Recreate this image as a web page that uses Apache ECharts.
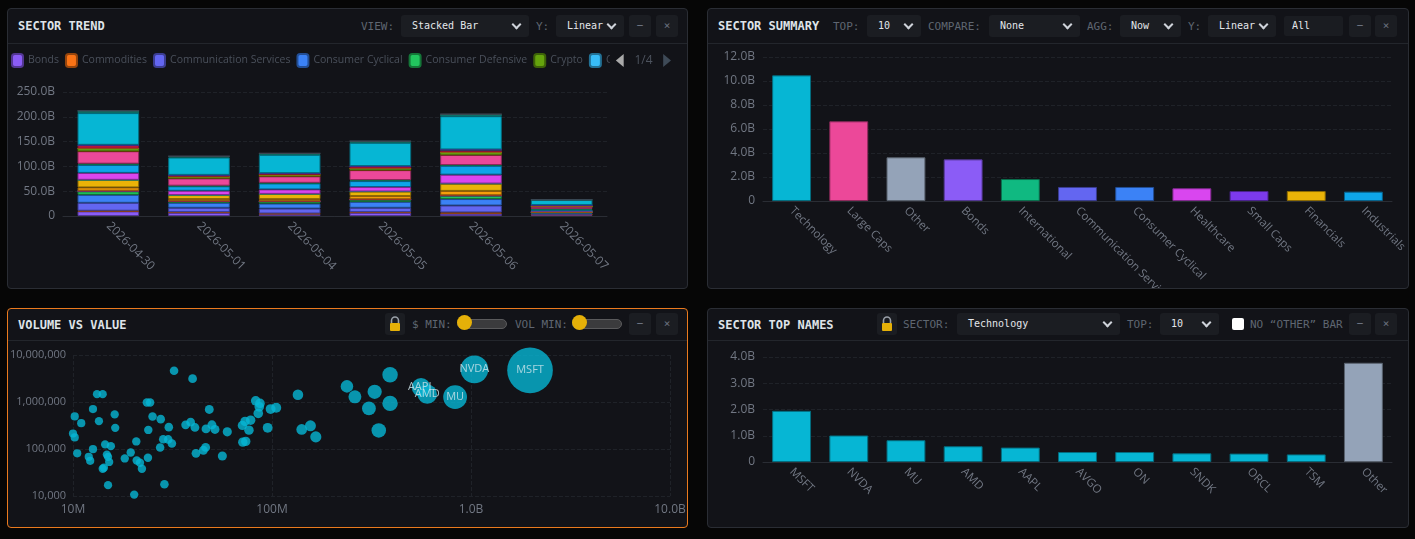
<!DOCTYPE html>
<html>
<head>
<meta charset="utf-8">
<title>Sector Dashboard</title>
<script src="https://cdn.jsdelivr.net/npm/echarts@6/dist/echarts.min.js"></script>
<style>
  body { margin: 0; width: 1415px; height: 539px; overflow: hidden; background: #060606; font-family: 'DejaVu Sans Mono', monospace; }
  .panel { position: absolute; box-sizing: border-box; background: #121318; border: 1px solid #2a2d34; border-radius: 4px; }
  .panel.active { border-color: #ea7a1e; }
  .head { position: absolute; left: 0; right: 0; top: 0; border-bottom: 1px solid #23262c; }
  .head > * { position: absolute; }
  .title { left: 10px; color: #dfe3e8; font-size: 12px; font-weight: bold; }
  .lbl { color: #5f6671; font-size: 11px; }
  .sel { height: 22px; line-height: 22px; background: #1b1d22; border-radius: 3px; color: #e3e6ea; font-size: 10px; padding-left: 11px; box-sizing: border-box; }
  .sel::after { content: ''; position: absolute; right: 9px; top: 6px; width: 5px; height: 5px; border-right: 2px solid #cfd3da; border-bottom: 2px solid #cfd3da; transform: rotate(45deg); }
  .inp { height: 22px; line-height: 22px; background: #1a1c21; border-radius: 2px; color: #e3e6ea; font-size: 10px; padding-left: 8px; box-sizing: border-box; }
  .btn { width: 22px; height: 22px; line-height: 22px; background: #1b1d22; border-radius: 3px; color: #6b7280; font-size: 11px; text-align: center; }
  .lock { width: 20px; height: 22px; background: #1b1d22; border-radius: 3px; }
  .track { width: 48px; height: 8px; background: #3b3b3d; border: 1px solid #5a5a5c; border-radius: 5px; }
  .knob { width: 15px; height: 15px; background: #e5b008; border-radius: 50%; }
  .chk { width: 12px; height: 12px; background: #fff; border-radius: 2px; }
  .chart { position: absolute; left: 0; }
</style>
</head>
<body>

<!-- 左上：Sector Trend -->
<div class="panel" style="left:7px;top:8px;width:681px;height:281px;">
  <div class="head" style="height:34px;">
    <span class="title" style="top:10px;">SECTOR TREND</span>
    <span class="lbl" style="left:353px;top:11px;">VIEW:</span>
    <div class="sel" style="left:393px;top:6px;width:128px;">Stacked Bar</div>
    <span class="lbl" style="left:528px;top:11px;">Y:</span>
    <div class="sel" style="left:548px;top:6px;width:68px;">Linear</div>
    <div class="btn" style="left:621px;top:6px;">&minus;</div>
    <div class="btn" style="left:648px;top:6px;">&times;</div>
  </div>
  <div class="chart" id="trend-chart" style="top:34px;width:679px;height:245px;"></div>
</div>

<!-- 右上：Sector Summary -->
<div class="panel" style="left:707px;top:8px;width:702px;height:281px;">
  <div class="head" style="height:34px;">
    <span class="title" style="top:10px;">SECTOR SUMMARY</span>
    <span class="lbl" style="left:125px;top:11px;">TOP:</span>
    <div class="sel" style="left:159px;top:6px;width:54px;">10</div>
    <span class="lbl" style="left:220px;top:11px;">COMPARE:</span>
    <div class="sel" style="left:281px;top:6px;width:91px;">None</div>
    <span class="lbl" style="left:379px;top:11px;">AGG:</span>
    <div class="sel" style="left:412px;top:6px;width:61px;">Now</div>
    <span class="lbl" style="left:480px;top:11px;">Y:</span>
    <div class="sel" style="left:500px;top:6px;width:68px;">Linear</div>
    <div class="inp" style="left:576px;top:7px;width:59px;height:20px;line-height:20px;">All</div>
    <div class="btn" style="left:641px;top:6px;">&minus;</div>
    <div class="btn" style="left:667px;top:6px;">&times;</div>
  </div>
  <div class="chart" id="summary-chart" style="top:34px;width:700px;height:245px;"></div>
</div>

<!-- 左下：Volume vs Value -->
<div class="panel active" style="left:7px;top:308px;width:681px;height:220px;">
  <div class="head" style="height:31px;">
    <span class="title" style="top:9px;">VOLUME VS VALUE</span>
    <div class="lock" style="left:377px;top:4px;">
      <svg width="20" height="22" viewBox="0 0 20 22"><path d="M6.5 10V7.5a3.5 3.5 0 0 1 7 0V10" fill="none" stroke="#9aa0a8" stroke-width="1.6"/><rect x="5" y="10" width="10" height="8" rx="1" fill="#e5b008"/></svg>
    </div>
    <span class="lbl" style="left:404px;top:9px;">$ MIN:</span>
    <div class="track" style="left:449px;top:10px;"></div>
    <div class="knob" style="left:449px;top:6px;"></div>
    <span class="lbl" style="left:507px;top:9px;">VOL MIN:</span>
    <div class="track" style="left:564px;top:10px;"></div>
    <div class="knob" style="left:564px;top:6px;"></div>
    <div class="btn" style="left:621px;top:4px;">&minus;</div>
    <div class="btn" style="left:648px;top:4px;">&times;</div>
  </div>
  <div class="chart" id="scatter-chart" style="top:31px;width:679px;height:187px;"></div>
</div>

<!-- 右下：Sector Top Names -->
<div class="panel" style="left:707px;top:308px;width:702px;height:220px;">
  <div class="head" style="height:31px;">
    <span class="title" style="top:9px;">SECTOR TOP NAMES</span>
    <div class="lock" style="left:169px;top:4px;">
      <svg width="20" height="22" viewBox="0 0 20 22"><path d="M6.5 10V7.5a3.5 3.5 0 0 1 7 0V10" fill="none" stroke="#9aa0a8" stroke-width="1.6"/><rect x="5" y="10" width="10" height="8" rx="1" fill="#e5b008"/></svg>
    </div>
    <span class="lbl" style="left:195px;top:9px;">SECTOR:</span>
    <div class="sel" style="left:249px;top:4px;width:163px;">Technology</div>
    <span class="lbl" style="left:419px;top:9px;">TOP:</span>
    <div class="sel" style="left:452px;top:4px;width:59px;">10</div>
    <div class="chk" style="left:524px;top:9px;"></div>
    <span class="lbl" style="left:542px;top:9px;">NO “OTHER” BAR</span>
    <div class="btn" style="left:641px;top:4px;">&minus;</div>
    <div class="btn" style="left:667px;top:4px;">&times;</div>
  </div>
  <div class="chart" id="names-chart" style="top:31px;width:700px;height:187px;"></div>
</div>

<script>
// ---------- 数据 ----------
// Sector trend, stacked values in billions
var trendDates = ['2026-04-30', '2026-05-01', '2026-05-04', '2026-05-05', '2026-05-06', '2026-05-07'];
var trendBonds = [9.3, 6.6, 4.0, 6.6, 4.6, 2.6];
var trendCommodities = [1.3, 1.0, 1.0, 1.0, 2.6, 0.3];
var trendCommServices = [16, 9, 10, 9, 14, 2.0];
var trendConsCyclical = [16, 10, 10, 12, 13, 1.3];
var trendConsDefensive = [7, 2.6, 4, 4, 6, 1.0];
var trendCrypto = [0.4, 0.2, 0.2, 0.3, 0.4, 0.1];
var trendCurrencies = [0.3, 0.2, 0.2, 0.2, 0.3, 0.1];
var trendDividend = [0.3, 0.2, 0.2, 0.2, 0.3, 0.1];
var trendEmerging = [0.4, 0.3, 0.3, 0.3, 0.4, 0.1];
var trendEnergy = [6.6, 4, 4, 6.6, 9, 0.8];
var trendFinancials = [15, 8, 10.5, 9, 14.5, 1.0];
var trendGrowth = [0.3, 0.2, 0.2, 0.2, 0.3, 0.1];
var trendHealthcare = [14, 8.6, 9, 9, 18, 1.0];
var trendIndustrials = [16, 9, 12, 12, 18, 1.2];
var trendInternational = [2.6, 1.3, 1.3, 2, 1.3, 2.6];
var trendLargeCaps = [25, 14.5, 13, 20, 20.5, 4.6];
var trendMaterials = [0.4, 0.3, 0.3, 0.3, 0.4, 0.2];
var trendMidCaps = [5, 3, 2.6, 3, 4.6, 0.6];
var trendPrecious = [0.3, 0.2, 0.2, 0.2, 0.3, 0.1];
var trendRealEstate = [6, 3, 2.6, 4, 4.6, 2.0];
var trendSemis = [0.3, 0.2, 0.2, 0.2, 0.3, 0.1];
var trendSmallCaps = [1, 0.5, 0.5, 0.5, 0.8, 0.3];
var trendTechnology = [64, 35, 37, 47, 67, 10];
var trendUtilities = [4.6, 2.6, 3, 3.3, 4, 0.5];
var trendValue = [0.2, 0.1, 0.1, 0.1, 0.2, 0.1];

var trendSeriesList = [
    ['Bonds', trendBonds], ['Commodities', trendCommodities],
    ['Communication Services', trendCommServices], ['Consumer Cyclical', trendConsCyclical],
    ['Consumer Defensive', trendConsDefensive], ['Crypto', trendCrypto],
    ['Currencies', trendCurrencies], ['Dividend', trendDividend],
    ['Emerging Markets', trendEmerging], ['Energy', trendEnergy],
    ['Financials', trendFinancials], ['Growth', trendGrowth],
    ['Healthcare', trendHealthcare], ['Industrials', trendIndustrials],
    ['International', trendInternational], ['Large Caps', trendLargeCaps],
    ['Materials', trendMaterials], ['Mid Caps', trendMidCaps],
    ['Precious Metals', trendPrecious], ['Real Estate', trendRealEstate],
    ['Semiconductors', trendSemis], ['Small Caps', trendSmallCaps],
    ['Technology', trendTechnology], ['Utilities', trendUtilities],
    ['Value', trendValue]
];

// Sector summary (billions)
var summarySectors = ['Technology', 'Large Caps', 'Other', 'Bonds', 'International', 'Communication Services',
    'Consumer Cyclical', 'Healthcare', 'Small Caps', 'Financials', 'Industrials'];
var summaryValues = [10.47, 6.64, 3.64, 3.47, 1.83, 1.17, 1.17, 1.06, 0.83, 0.83, 0.78];

// Sector top names (billions)
var topNames = ['MSFT', 'NVDA', 'MU', 'AMD', 'AAPL', 'AVGO', 'ON', 'SNDK', 'ORCL', 'TSM', 'Other'];
var topValues = [1.95, 1.01, 0.83, 0.60, 0.55, 0.38, 0.38, 0.33, 0.32, 0.29, 3.78];

// Volume vs value: dollar value in millions, volume in shares
var scatterValueM = [32.2, 39.9, 13.2, 14.1, 23.5, 24.4, 12.6, 10.2, 11.0, 13.5, 16.2, 16.3, 10.0, 10.2, 10.5,
    12.6, 12.0, 12.2, 14.5, 15.5, 14.8, 15.0, 15.2, 14.1, 14.3, 15.0, 18.2, 19.5, 20.8, 20.9, 21.7, 22.2, 20.3,
    23.8, 23.9, 25.1, 27.6, 27.4, 28.4, 30.1, 31.4, 30.3, 28.8, 36.8, 39.0, 41.0, 41.5, 45.2, 46.4, 46.6, 48.4,
    49.9, 51.7, 56.3, 59.6, 71.0, 73.2, 78.1, 76.6, 71.3, 73.8, 82.8, 87.0, 86.3, 85.3, 95.1, 98.4, 105, 135,
    141, 156, 166, 238, 261, 392, 328, 307, 392, 344];
var scatterVolume = [4620000, 3130000, 1470000, 1470000, 980000, 980000, 706000, 493000, 355000, 391000, 544000,
    282000, 214000, 176000, 81000, 99000, 68000, 56000, 125000, 115000, 76000, 68000, 53000, 38000, 40000, 17000,
    63000, 84000, 145000, 57000, 51000, 38000, 10700, 65000, 255000, 493000, 432000, 108000, 162000, 160000,
    131000, 292000, 17800, 327000, 373000, 287000, 81000, 94000, 108000, 268000, 695000, 327000, 261000, 71000,
    232000, 317000, 386000, 411000, 252000, 140000, 145000, 1060000, 934000, 790000, 571000, 282000, 706000,
    752000, 1430000, 261000, 311000, 181000, 2150000, 1290000, 3800000, 1650000, 731000, 934000, 248000];
// labelled names
var namedTickers = ['AAPL', 'AMD', 'MU', 'NVDA', 'MSFT'];
var namedValueM = [561, 603, 832, 1040, 1980];
var namedVolume = [2050000, 1470000, 1270000, 4950000, 4720000];

// ---------- 样式 ----------
var sectorColors = {
    'Bonds': '#8b5cf6', 'Commodities': '#f97316', 'Communication Services': '#6366f1',
    'Consumer Cyclical': '#3b82f6', 'Consumer Defensive': '#22c55e', 'Crypto': '#65a30d',
    'Currencies': '#38bdf8', 'Dividend': '#a855f7', 'Emerging Markets': '#f43f5e', 'Energy': '#f59e0b',
    'Financials': '#eab308', 'Growth': '#2dd4bf', 'Healthcare': '#d946ef', 'Industrials': '#0ea5e9',
    'International': '#10b981', 'Large Caps': '#ec4899', 'Materials': '#a16207', 'Mid Caps': '#84cc16',
    'Precious Metals': '#facc15', 'Real Estate': '#e11d48', 'Semiconductors': '#0891b2',
    'Small Caps': '#7c3aed', 'Technology': '#06b6d4', 'Utilities': '#14b8a6', 'Value': '#64748b',
    'Other': '#94a3b8'
};
var axisText = '#717783';
var gridLine = '#1f2228';
var axisLine = '#2a2d34';
var chartFont = "'Open Sans', 'Noto Sans', sans-serif";

/**
 * darken a hex colour
 * @param hex colour
 * @param f   factor
 */
function shade(hex, f) {
    let n = parseInt(hex.slice(1), 16);
    let r = Math.round(((n >> 16) & 255) * f);
    let g = Math.round(((n >> 8) & 255) * f);
    let b = Math.round((n & 255) * f);
    return 'rgb(' + r + ',' + g + ',' + b + ')';
}

function billions(v) {
    return v === 0 ? '0' : v.toFixed(1) + 'B';
}

function valueAxis(max, interval) {
    return {
        type: 'value', min: 0, max: max, interval: interval,
        axisLabel: { color: axisText, fontSize: 12, fontFamily: chartFont, margin: 8, formatter: billions },
        splitLine: { lineStyle: { color: gridLine, type: 'dashed' } },
        axisLine: { show: false }, axisTick: { show: false }
    };
}

function categoryAxis(data, fontSize) {
    return {
        type: 'category', data: data,
        axisLabel: { color: axisText, fontSize: fontSize, fontFamily: chartFont, rotate: -45, margin: 8, interval: 0 },
        axisLine: { lineStyle: { color: axisLine } },
        axisTick: { lineStyle: { color: axisLine } }
    };
}

// ---------- Sector trend ----------
var trendChart = echarts.init(document.getElementById('trend-chart'));
let trendSeries = [];
for (let i = 0; i < trendSeriesList.length; i++) {
    let name = trendSeriesList[i][0];
    let c = sectorColors[name];
    trendSeries.push({
        name: name, type: 'bar', stack: 'total', barWidth: '68%',
        data: trendSeriesList[i][1],
        itemStyle: { color: c, borderColor: shade(c, 0.6), borderWidth: 1 }
    });
}
trendChart.setOption({
    animation: false,
    textStyle: { fontFamily: chartFont },
    legend: {
        type: 'scroll', left: 3, top: 10, width: 660, padding: 0,
        itemWidth: 11, itemHeight: 13, itemGap: 6, icon: 'roundRect',
        textStyle: { color: '#4a505b', fontSize: 10.5, fontFamily: chartFont },
        pageIconColor: '#3e4a57', pageIconInactiveColor: '#aaaaaa', pageIconSize: 13,
        pageTextStyle: { color: '#4d535e', fontSize: 12 }
    },
    grid: { left: 55, right: 80, top: 49, bottom: 72, outerBoundsMode: 'none' },
    xAxis: categoryAxis(trendDates, 12),
    yAxis: valueAxis(250, 50),
    series: trendSeries
});

// ---------- Sector summary ----------
var summaryChart = echarts.init(document.getElementById('summary-chart'));
summaryChart.setOption({
    animation: false,
    grid: { left: 55, right: 16, top: 14, bottom: 87, outerBoundsMode: 'none' },
    xAxis: categoryAxis(summarySectors, 11.5),
    yAxis: valueAxis(12, 2),
    series: [{
        type: 'bar', barWidth: '68%',
        data: summaryValues.map(function (v, i) {
            let c = sectorColors[summarySectors[i]];
            return { value: v, itemStyle: { color: c, borderColor: shade(c, 0.6), borderWidth: 1 } };
        })
    }]
});

// ---------- Volume vs value ----------
var scatterChart = echarts.init(document.getElementById('scatter-chart'));
function bubbleSize(d) {
    return 8 + 19 * d[0] / 1000;
}
scatterChart.setOption({
    animation: false,
    grid: { left: 65, right: 17, top: 15, bottom: 31, outerBoundsMode: 'none' },
    xAxis: {
        type: 'log', logBase: 10, min: 10, max: 10000,
        axisLabel: {
            color: axisText, fontSize: 12, fontFamily: chartFont, margin: 8,
            formatter: function (v) { return v >= 1000 ? (v / 1000).toFixed(1) + 'B' : v + 'M'; }
        },
        splitLine: { lineStyle: { color: gridLine, type: 'dashed' } },
        axisLine: { show: false }, axisTick: { show: false }
    },
    yAxis: {
        type: 'log', logBase: 10, min: 10000, max: 10000000,
        axisLabel: {
            color: axisText, fontSize: 11, fontFamily: chartFont, margin: 7,
            formatter: function (v) { return Math.round(v).toLocaleString('en-US'); }
        },
        splitLine: { lineStyle: { color: gridLine, type: 'dashed' } },
        axisLine: { show: false }, axisTick: { show: false }
    },
    series: [{
        type: 'scatter',
        data: scatterValueM.map(function (v, i) { return [v, scatterVolume[i]]; }),
        symbolSize: bubbleSize,
        itemStyle: { color: '#06b6d4', opacity: 0.8 }
    }, {
        type: 'scatter',
        data: namedValueM.map(function (v, i) { return [v, namedVolume[i], namedTickers[i]]; }),
        symbolSize: bubbleSize,
        itemStyle: { color: '#06b6d4', opacity: 0.8 },
        label: {
            show: true, position: 'inside', color: '#cfe6ec', fontSize: 11, fontFamily: chartFont,
            formatter: function (p) { return p.data[2]; }
        }
    }]
});

// ---------- Sector top names ----------
var namesChart = echarts.init(document.getElementById('names-chart'));
namesChart.setOption({
    animation: false,
    grid: { left: 55, right: 16, top: 17, bottom: 65, outerBoundsMode: 'none' },
    xAxis: categoryAxis(topNames, 11.5),
    yAxis: valueAxis(4, 1),
    series: [{
        type: 'bar', barWidth: '68%',
        data: topValues.map(function (v, i) {
            let c = topNames[i] === 'Other' ? sectorColors['Other'] : sectorColors['Technology'];
            return { value: v, itemStyle: { color: c, borderColor: shade(c, 0.6), borderWidth: 1 } };
        })
    }]
});
</script>
</body>
</html>
